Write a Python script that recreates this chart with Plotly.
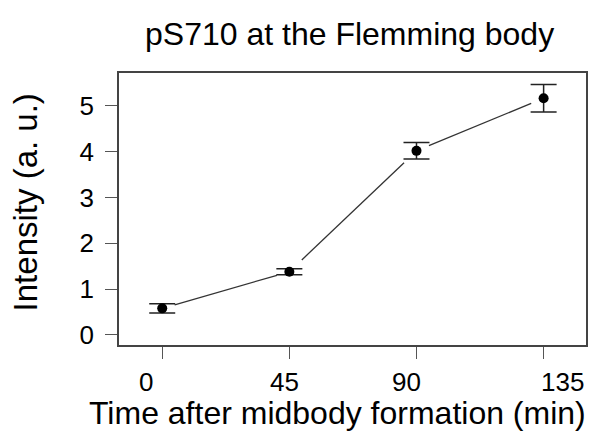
import plotly.graph_objects as go

# Data
time_min = [0, 45, 90, 135]
intensity = [0.58, 1.38, 4.02, 5.17]
err = [0.10, 0.065, 0.18, 0.30]
x_ticks = [0, 45, 90, 135]
x_tick_labels = ["0", "45", "90", "135"]
y_ticks = [0, 1, 2, 3, 4, 5]

title_text = "pS710 at the Flemming body"
x_title = "Time after midbody formation (min)"
y_title = "Intensity (a. u.)"

FONT = "Liberation Sans, Arial, Helvetica, sans-serif"
X_RANGE = [-15.3, 150.0]
Y_RANGE = [-0.22, 5.72]
GAP = 4.4  # horizontal gap (in x units) left around each point, like R type="b"
# pixel offsets of the x tick labels relative to their ticks (as in the reference)
X_LABEL_SHIFT = [-16, -5, -10, 19]

# Build gapped connecting segments from the data
seg_x, seg_y = [], []
for i in range(len(time_min) - 1):
    x0, x1 = time_min[i], time_min[i + 1]
    y0, y1 = intensity[i], intensity[i + 1]
    f0 = GAP / (x1 - x0)
    f1 = 1 - f0
    seg_x += [x0 + (x1 - x0) * f0, x0 + (x1 - x0) * f1, None]
    seg_y += [y0 + (y1 - y0) * f0, y0 + (y1 - y0) * f1, None]

fig = go.Figure()
fig.add_trace(go.Scatter(
    x=seg_x, y=seg_y, mode="lines",
    line=dict(color="#333333", width=1.3),
    hoverinfo="skip", showlegend=False,
))
fig.add_trace(go.Scatter(
    x=time_min, y=intensity, mode="markers",
    marker=dict(color="black", size=10),
    error_y=dict(type="data", array=err, visible=True,
                 color="#222222", thickness=1.5, width=13),
    showlegend=False,
))

axis_common = dict(
    showgrid=False, zeroline=False,
    showline=True, linecolor="#444444", linewidth=1.5, mirror=True,
    ticks="outside", ticklen=12, tickwidth=1.3, tickcolor="#555555",
    tickfont=dict(family=FONT, size=26, color="black"),
)

L, R, T, B = 119, 7, 73, 89
W, H = 595, 434
plot_h = H - T - B
plot_w = W - L - R

fig.update_layout(
    width=W, height=H,
    paper_bgcolor="white", plot_bgcolor="white",
    margin=dict(l=L, r=R, t=T, b=B),
    font=dict(family=FONT, color="black"),
    xaxis=dict(range=X_RANGE, tickvals=x_ticks, showticklabels=False, **axis_common),
    yaxis=dict(range=Y_RANGE, tickvals=y_ticks, ticktext=[str(v) for v in y_ticks],
               ticklabelstandoff=6, **axis_common),
)
for xv, lab, sh in zip(x_ticks, x_tick_labels, X_LABEL_SHIFT):
    fig.add_annotation(text=lab, x=xv, xref="x", yref="paper",
                       y=-(382 - (H - B)) / plot_h, xshift=sh,
                       showarrow=False, xanchor="center", yanchor="middle",
                       font=dict(family=FONT, size=26, color="black"))
fig.add_annotation(text=title_text, xref="paper", yref="paper",
                   x=(350 - L) / plot_w, y=1 + (T - 34) / plot_h,
                   showarrow=False, xanchor="center", yanchor="middle",
                   font=dict(family=FONT, size=32, color="black"))
fig.add_annotation(text=x_title, xref="paper", yref="paper",
                   x=(338 - L) / plot_w, y=-(413 - (H - B)) / plot_h,
                   showarrow=False, xanchor="center", yanchor="middle",
                   font=dict(family=FONT, size=32, color="black"))
fig.add_annotation(text=y_title, xref="paper", yref="paper",
                   x=-(L - 25) / plot_w, y=((H - B) - 202) / plot_h, textangle=-90,
                   showarrow=False, xanchor="center", yanchor="middle",
                   font=dict(family=FONT, size=33, color="black"))

fig.write_html("out.html", config={"displayModeBar": False})

# remove the default page margin so the figure sits at the window's corner
with open("out.html", "r", encoding="utf-8") as fh:
    html = fh.read()
html = html.replace("<head>", "<head><style>html,body{margin:0;padding:0;overflow:hidden;}</style>", 1)
with open("out.html", "w", encoding="utf-8") as fh:
    fh.write(html)
